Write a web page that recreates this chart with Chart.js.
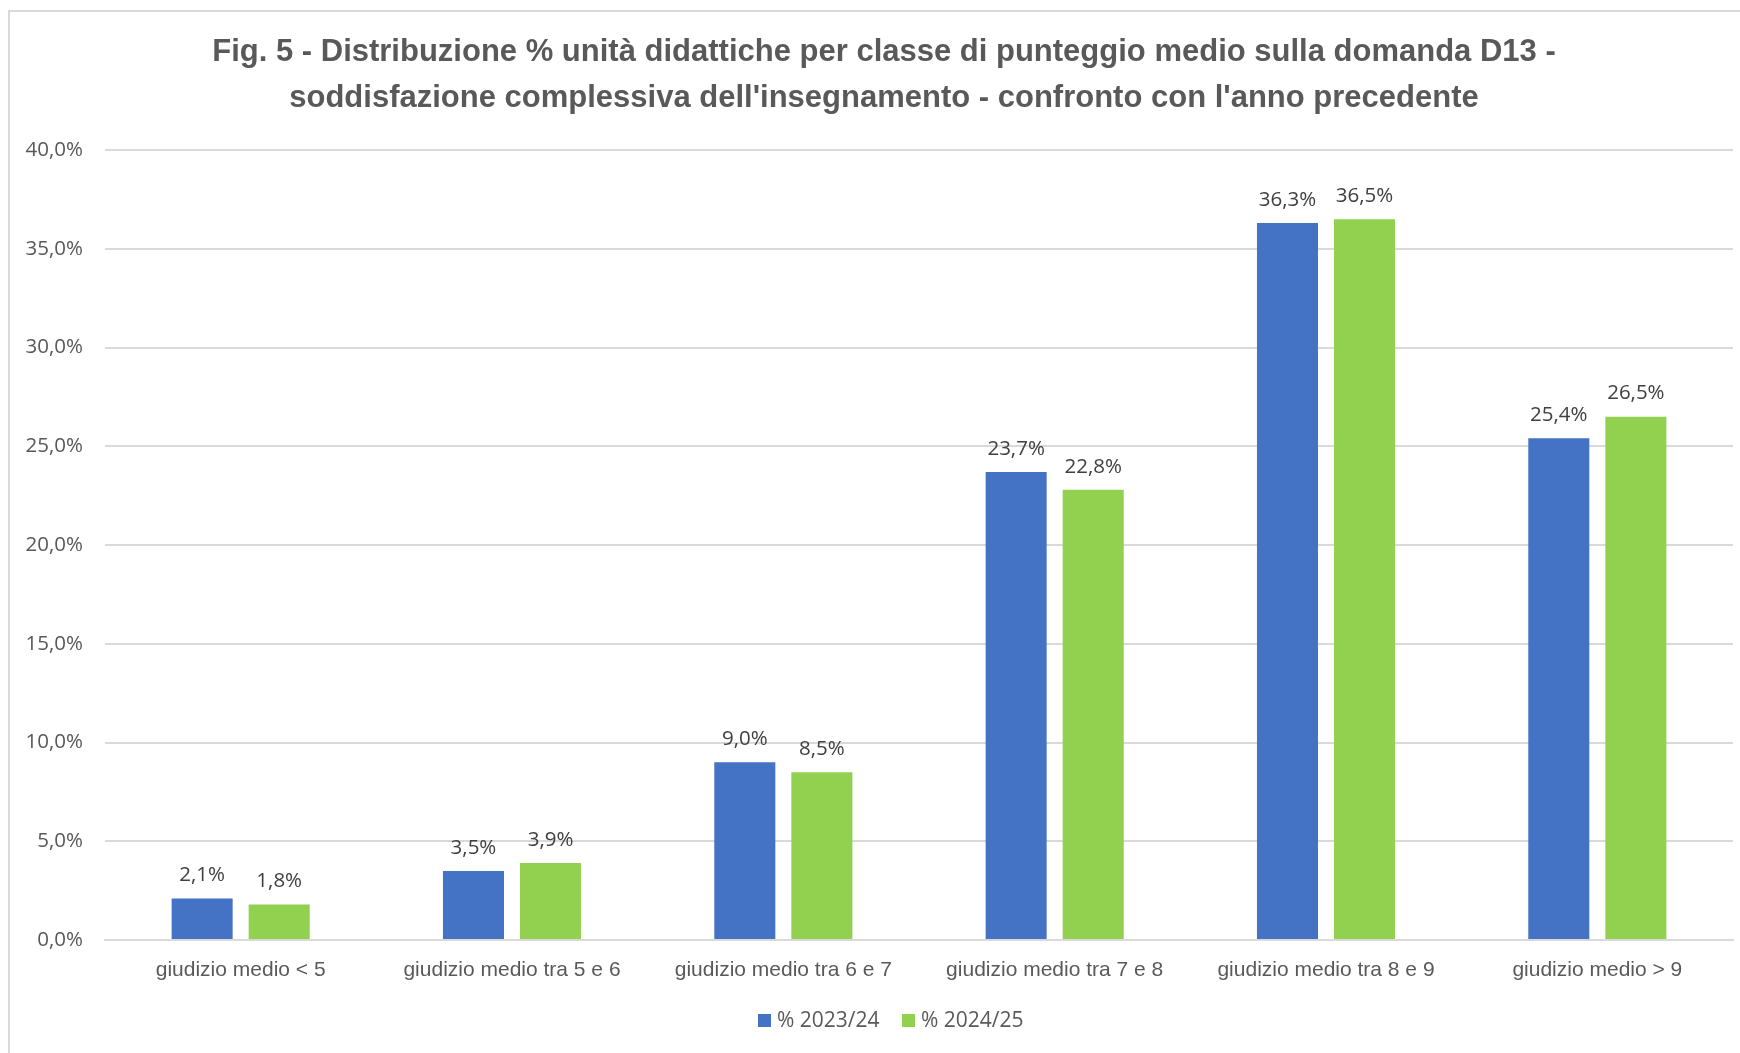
<!DOCTYPE html>
<html>
<head>
<meta charset="utf-8">
<script src="https://cdn.jsdelivr.net/npm/chart.js@4/dist/chart.umd.min.js"></script>
<style>
  html, body { margin: 0; padding: 0; background: #fff; }
  #wrap { position: absolute; left: 0; top: 0; width: 1740px; height: 1053px; }
</style>
</head>
<body>
<div id="wrap"><canvas id="c" width="1740" height="1053"></canvas></div>
<script>
const titleLines = [
  "Fig. 5 - Distribuzione % unità didattiche per classe di punteggio medio sulla domanda D13 -",
  "soddisfazione complessiva dell'insegnamento - confronto con l'anno precedente"
];
const categories = [
  "giudizio medio < 5",
  "giudizio medio tra 5 e 6",
  "giudizio medio tra 6 e 7",
  "giudizio medio tra 7 e 8",
  "giudizio medio tra 8 e 9",
  "giudizio medio > 9"
];
const seriesNames = ["% 2023/24", "% 2024/25"];
const values2023 = [2.1, 3.5, 9.0, 23.7, 36.3, 25.4];
const values2024 = [1.8, 3.9, 8.5, 22.8, 36.5, 26.5];
const yTicks = [0, 5, 10, 15, 20, 25, 30, 35, 40];

const fmt = v => v.toFixed(1).replace('.', ',') + '%';

const decor = {
  id: 'decor',
  beforeDraw(chart) {
    const ctx = chart.ctx;
    ctx.save();
    ctx.fillStyle = '#fff';
    ctx.fillRect(0, 0, chart.width, chart.height);
    ctx.strokeStyle = '#D9D9D9';
    ctx.lineWidth = 2;
    ctx.beginPath();
    ctx.moveTo(9, 1053);
    ctx.lineTo(9, 11);
    ctx.lineTo(1740, 11);
    ctx.stroke();
    ctx.restore();
  },
  afterDraw(chart) {
    const ctx = chart.ctx;
    ctx.save();
    // title
    ctx.fillStyle = '#595959';
    ctx.font = 'bold 31px "Liberation Sans Narrow", "Liberation Sans", sans-serif';
    ctx.textAlign = 'center';
    ctx.textBaseline = 'middle';
    ctx.fillText(titleLines[0], 884, 52);
    ctx.fillText(titleLines[1], 884, 98);
    // data labels
    ctx.fillStyle = '#404040';
    ctx.font = '20.5px "Open Sans", sans-serif';
    chart.data.datasets.forEach((ds, di) => {
      const meta = chart.getDatasetMeta(di);
      meta.data.forEach((bar, i) => {
        ctx.fillText(fmt(ds.data[i]), bar.x, bar.y - 23);
      });
    });
    // legend
    ctx.font = '21px "Open Sans", sans-serif';
    ctx.textAlign = 'left';
    const legendX = [758, 902];
    chart.data.datasets.forEach((ds, di) => {
      ctx.fillStyle = ds.backgroundColor;
      ctx.fillRect(legendX[di], 1014, 13, 13);
      ctx.fillStyle = '#595959';
      ctx.fillText(ds.label, legendX[di] + 19, 1021);
    });
    ctx.restore();
  }
};

new Chart(document.getElementById('c'), {
  type: 'bar',
  data: {
    labels: categories,
    datasets: [
      { label: seriesNames[0], data: values2023, backgroundColor: '#4472C4' },
      { label: seriesNames[1], data: values2024, backgroundColor: '#92D050' }
    ]
  },
  options: {
    responsive: false,
    animation: false,
    devicePixelRatio: 1,
    layout: { padding: { top: 150, right: 7, left: 0, bottom: 0 } },
    categoryPercentage: 0.568,
    barPercentage: 0.792,
    plugins: { legend: { display: false }, title: { display: false }, tooltip: { enabled: false } },
    scales: {
      x: {
        grid: { display: false, drawTicks: false },
        border: { display: true, color: '#D9D9D9', width: 2 },
        ticks: { color: '#595959', font: { family: '"Liberation Sans Narrow", "Liberation Sans", sans-serif', size: 21 }, padding: 18, maxRotation: 0, autoSkip: false },
        afterFit(scale) { scale.height = 113; }
      },
      y: {
        min: 0, max: 40,
        afterBuildTicks(scale) { scale.ticks = yTicks.map(v => ({ value: v })); },
        grid: { color: '#D9D9D9', lineWidth: 2, drawTicks: false },
        border: { display: false },
        ticks: { color: '#595959', font: { family: '"Open Sans", sans-serif', size: 20.5 }, padding: 22, callback: v => fmt(v) },
        afterFit(scale) { scale.width = 105; }
      }
    }
  },
  plugins: [decor]
});
</script>
</body>
</html>
